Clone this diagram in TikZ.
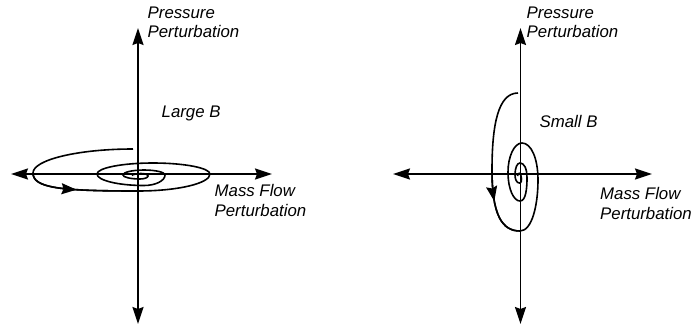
\documentclass[tikz,border=0pt]{standalone}
\usepackage{fontspec}
\setmainfont{Liberation Sans}
\usetikzlibrary{arrows.meta,decorations.markings}
\begin{document}
\begin{tikzpicture}[x=1pt,y=-1pt,
  axis/.style={line width=1.5pt,{Stealth[length=17pt,width=11pt,inset=2pt]}-{Stealth[length=17pt,width=11pt,inset=2pt]}},
  spiral/.style={line width=1.6pt},
  lbl/.style={font=\fontsize{16.8}{19.2}\selectfont\itshape,align=left,inner sep=0pt,anchor=north west},
  dirmark/.style={postaction={decorate},decoration={markings,mark=at position #1 with {\arrow{Stealth[length=15pt,width=11pt,inset=2pt]}}}}]
\path[use as bounding box] (0,0) rectangle (691,327);
% ---------- left diagram ----------
\coordinate (LW) at (11,174);
\coordinate (LE) at (272,174);
\coordinate (LN) at (138,28);
\coordinate (LS) at (138,324);
\draw[axis] (LW) -- (LE);
\draw[axis] (LS) -- (LN);
\node[lbl] (lp) at (147.5,6.5) {Pressure\\Perturbation};
\node[lbl] (lb) at (161.5,106) {Large B};
\node[lbl] (lm) at (214.5,184.5) {Mass Flow\\Perturbation};
\draw[spiral] (133,149) .. controls (78,149) and (33,159.8) .. (33,173)
  .. controls (33,188) and (60,191) .. (138,191)
  .. controls (177.6,191) and (210,183.4) .. (210,174)
  .. controls (210,168) and (184.4,163) .. (153,163)
  .. controls (122,163) and (97,168) .. (97,174)
  .. controls (97,180.3) and (118,185.5) .. (144,185.5)
  .. controls (155.5,185.5) and (165,180.8) .. (165,175)
  .. controls (165,172.2) and (155.5,170) .. (144,170)
  .. controls (132.5,170) and (123,172.2) .. (123,175)
  .. controls (123,177.2) and (130.6,179) .. (140,179)
  .. controls (144.4,179) and (148,177.6) .. (148,176)
  .. controls (148,174.5) and (145,173.5) .. (141,173.5)
  .. controls (137,173.5) and (132,174.5) .. (132,175.5);
\draw[spiral,dirmark=0.45] (33,173) .. controls (33,188) and (60,191) .. (138,191);
% ---------- right diagram ----------
\coordinate (RW) at (393,174);
\coordinate (RE) at (652,174);
\coordinate (RN) at (520.5,28);
\coordinate (RS) at (520.5,324);
\draw[axis] (RW) -- (RE);
\draw[axis] (RS) -- (RN);
\node[lbl] (rp) at (526.5,6.5) {Pressure\\Perturbation};
\node[lbl] (rb) at (539.5,115.5) {Small B};
\node[lbl] (rm) at (600,187.5) {Mass Flow\\Perturbation};
\draw[spiral] (518,93) .. controls (498,93) and (492,125) .. (492,170)
  .. controls (492,215) and (502,231) .. (520,231)
  .. controls (532,231) and (538,205) .. (538,180)
  .. controls (538,158) and (531,143) .. (522,143)
  .. controls (514,143) and (508,157) .. (508,172)
  .. controls (508,190) and (514,201) .. (520,201)
  .. controls (526,201) and (527,188) .. (527,178)
  .. controls (527,168) and (524,163) .. (520,163)
  .. controls (517,163) and (515,168) .. (515,175)
  .. controls (515,180) and (517,183) .. (519.5,183)
  .. controls (521.5,183) and (522,180) .. (521,176)
  .. controls (520.5,173) and (518,172) .. (517.5,176);
\draw[spiral,dirmark=0.42] (492,170) .. controls (492,215) and (502,231) .. (520,231);
\end{tikzpicture}
\end{document}
